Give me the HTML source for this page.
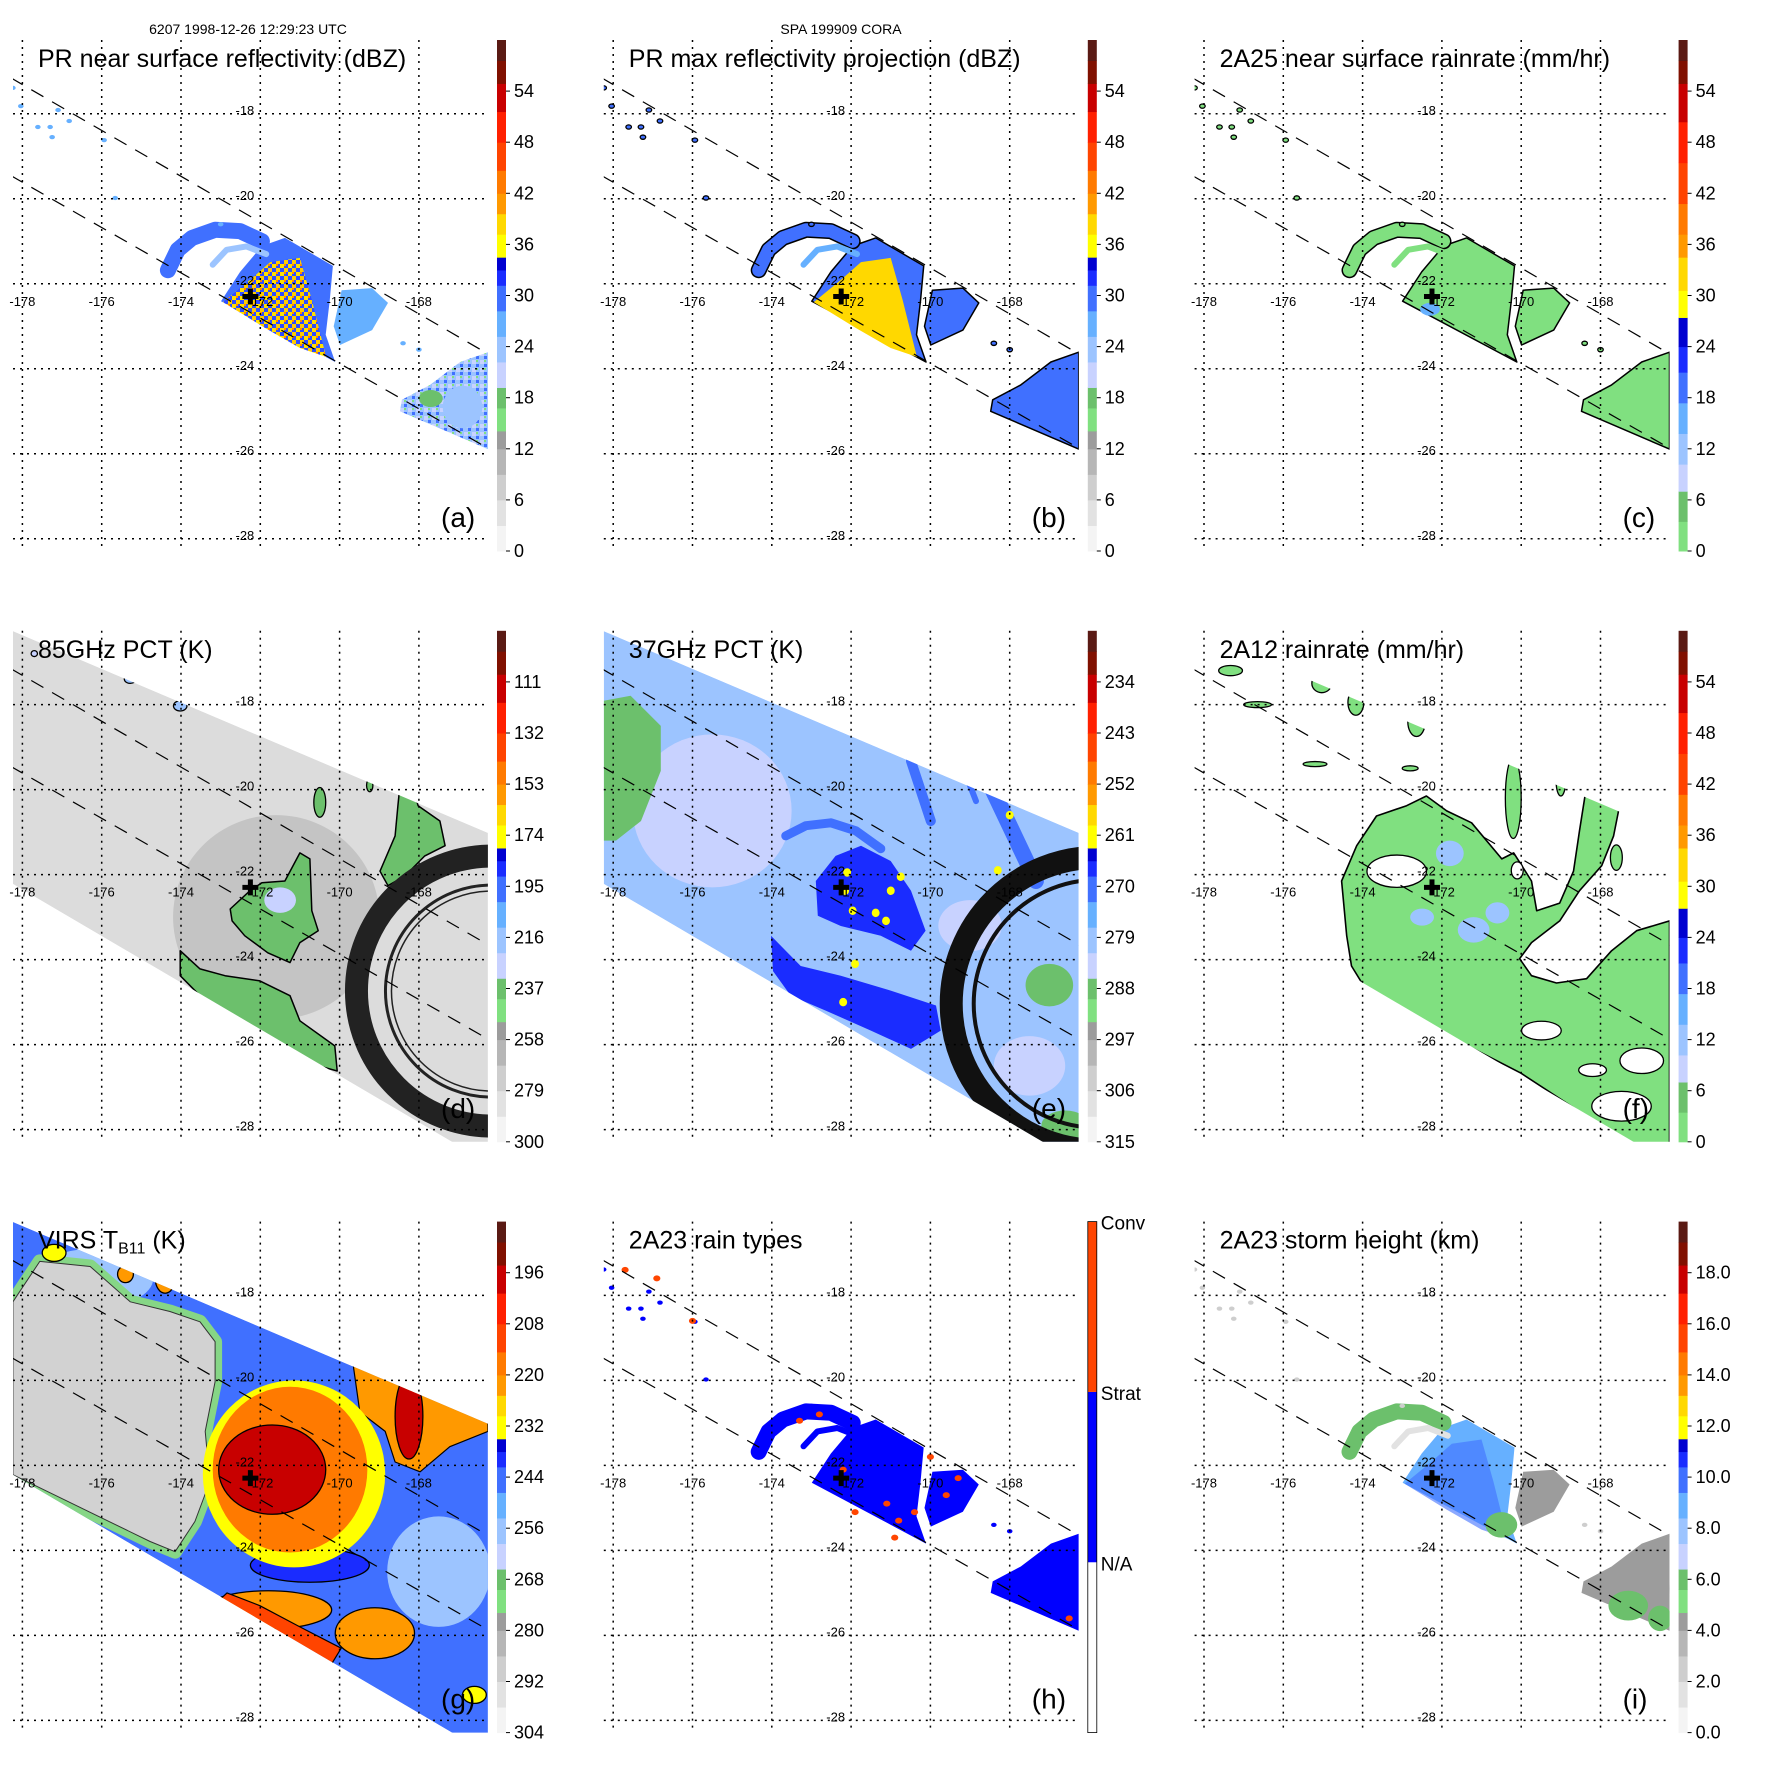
<!DOCTYPE html>
<html><head><meta charset="utf-8"><title>TRMM TC overview 1998-12-26</title>
<style>
html,body{margin:0;padding:0;background:#fff;}
svg{display:block;font-family:"Liberation Sans",Arial,sans-serif;}
</style></head>
<body>
<svg id="fig" xmlns="http://www.w3.org/2000/svg" width="1771" height="1771" viewBox="0 0 1771 1771">
<defs>
<pattern id="speckle-a" width="8" height="8" patternUnits="userSpaceOnUse">
<rect width="8" height="8" fill="#2f4cff"/><rect x="0" y="0" width="4" height="4" fill="#ffe000"/><rect x="4" y="4" width="4" height="4" fill="#ffcc00"/><rect x="4" y="0" width="2" height="2" fill="#ff8800"/>
</pattern>
<pattern id="speckle-lr" width="8" height="8" patternUnits="userSpaceOnUse">
<rect width="8" height="8" fill="#9cc4ff"/><rect x="0" y="0" width="4" height="4" fill="#c8d2ff"/><rect x="4" y="4" width="3" height="3" fill="#4070ff"/><rect x="4" y="0" width="2" height="2" fill="#80e080"/>
</pattern>
</defs>
<rect x="0" y="0" width="1771" height="1771" fill="#fff"/>
<text x="248" y="34" font-size="14" text-anchor="middle">6207 1998-12-26 12:29:23 UTC</text>
<text x="841" y="34" font-size="14" text-anchor="middle">SPA 199909 CORA</text>
</svg>
<script>
// ---------- axis / tick data ----------
const LONS = [-178,-176,-174,-172,-170,-168];
const LATS = [-18,-20,-22,-24,-26,-28];
const CENTER = [-172.25,-22.3];
const prUpper = [[-178.3,-17.15],[-166.2,-23.68]];
const prLower = [[-178.3,-19.45],[-166.2,-25.9]];
const tmiSwath = [[-178.24,-16.27],[-166.26,-21.02],[-166.26,-28.4],[-166.96,-28.4],[-178.24,-22.22]];
// PR echo geometry (lon, lat)
const prBody = [[-172.99,-22.41],[-172.51,-21.72],[-171.96,-21.11],[-171.38,-20.92],[-170.17,-21.58],[-170.25,-22.4],[-170.35,-23.2],[-170.11,-23.84]];
const prChunk = [[-169.95,-22.15],[-169.18,-22.1],[-168.78,-22.45],[-169.18,-23.09],[-169.99,-23.44],[-170.15,-23.0]];
const prArm = [[-174.33,-21.68],[-174.08,-21.2],[-173.72,-20.92],[-173.14,-20.73],[-172.51,-20.76],[-171.96,-21.0]];
const prInnerArm = [[-173.2,-21.55],[-172.85,-21.2],[-172.35,-21.12],[-171.85,-21.3]];
const prLowerRight = [[-168.43,-24.73],[-167.72,-24.38],[-166.96,-23.84],[-166.26,-23.61],[-166.26,-25.89],[-168.48,-25.0]];
const prCore = [[-172.94,-22.43],[-172.26,-21.91],[-171.75,-21.49],[-171.0,-21.39],[-170.7,-22.38],[-170.34,-23.72],[-171.0,-23.51],[-171.88,-23.04]];
const prSpecks = [[-178.24,-17.39],[-178.04,-17.82],[-177.1,-17.91],[-177.61,-18.31],[-177.3,-18.31],[-177.25,-18.55],[-176.82,-18.17],[-175.94,-18.62],[-175.66,-19.98],[-173.0,-20.6],[-168.4,-23.4],[-168.0,-23.55]];
const valsA = [29, 27, 30, 24, 23, 38, 26];
const valsB = [30, 30, 29, 26, 29, 39, 31];
const valsC = [3, 3, 3, 3, 3, 4, 3];
const valsI = [8.5, 4.5, 6.0, 2, 4.4, 9.5, 3];
const convSpecks = [[-172.2,-22.1],[-171.1,-22.9],[-170.8,-23.3],[-170.4,-23.1],[-170.9,-23.7],[-169.3,-22.3],[-169.6,-22.7],[-170.0,-21.8],[-173.3,-20.95],[-172.8,-20.8],[-177.7,-17.4],[-176.9,-17.6],[-176.0,-18.6],[-166.5,-25.6],[-171.9,-23.1]];
// 85 GHz PCT
const d85Central = [[-172.76,-22.81],[-172.26,-22.38],[-171.96,-22.19],[-171.38,-22.15],[-171.0,-21.49],[-170.75,-21.63],[-170.7,-22.85],[-170.54,-23.32],[-171.0,-23.6],[-171.25,-24.07],[-171.81,-23.84],[-172.39,-23.44],[-172.71,-23.09]];
const d85Band = [[-174.02,-23.79],[-173.52,-24.22],[-172.89,-24.38],[-172.01,-24.5],[-171.25,-24.85],[-171.0,-25.44],[-170.12,-26.03],[-170.06,-26.62],[-171.0,-26.38],[-171.88,-25.91],[-172.89,-25.44],[-173.52,-24.85],[-174.02,-24.38]];
const d85Strip = [[-168.48,-19.91],[-168.18,-19.86],[-168.02,-20.38],[-167.47,-20.74],[-167.34,-21.32],[-167.85,-21.56],[-168.35,-22.03],[-168.78,-22.26],[-168.98,-21.92],[-168.6,-21.09],[-168.53,-20.38]];
const d85Cells = [[-175.28,-17.4,0.15,0.1,215],[-174.02,-18.03,0.17,0.12,215],[-170.5,-20.3,0.15,0.35,235],[-169.24,-19.9,0.08,0.15,240],[-177.7,-16.8,0.08,0.07,225]];
const d85Values = [240, 240, 236, 268];
// 37 GHz PCT
const e37Green = [[-178.24,-17.91],[-177.56,-17.79],[-176.8,-18.5],[-176.8,-19.56],[-177.3,-20.74],[-177.93,-21.2],[-178.24,-21.2]];
const e37Band = [[-174.02,-23.44],[-173.27,-24.15],[-172.26,-24.38],[-171.0,-24.73],[-169.86,-25.08],[-169.74,-25.67],[-170.49,-26.1],[-171.5,-25.67],[-172.64,-25.2],[-173.52,-24.85],[-173.97,-24.27]];
const e37Core = [[-172.89,-22.15],[-172.39,-21.56],[-171.75,-21.32],[-171.0,-21.68],[-170.49,-22.38],[-170.12,-23.32],[-170.49,-23.79],[-171.25,-23.44],[-172.26,-23.21],[-172.84,-22.97]];
const e37Arm = [[-173.65,-21.09],[-173.14,-20.85],[-172.51,-20.78],[-171.88,-20.97],[-171.25,-21.39]];
const e37Streaks = [[[-170.49,-19.33],[-169.99,-20.74]],[[-168.48,-19.91],[-167.34,-22.15]],[[-169.24,-19.33],[-168.85,-20.27]]];
const e37Yellow = [[-172.15,-22.38],[-171.96,-22.85],[-171.38,-22.9],[-171.0,-22.38],[-171.12,-23.09],[-172.1,-21.95],[-170.75,-22.05],[-171.9,-24.1],[-172.2,-25.0],[-168.0,-20.6],[-168.3,-21.9]];
const e37Values = [281, 268, 267, 272, 270, 261, 287];
const e37Light = [[-175.5,-20.5,2.0,1.8],[-169.0,-23.2,0.8,0.6],[-167.5,-26.5,0.9,0.7]];
// 2A12 rain
const f12Area = [[-174.4,-23.44],[-174.53,-22.15],[-174.15,-21.32],[-173.65,-20.62],[-172.89,-20.38],[-172.39,-20.15],[-171.88,-20.5],[-171.25,-20.78],[-170.49,-21.63],[-170.19,-21.49],[-169.74,-22.15],[-169.61,-22.85],[-169.03,-22.67],[-168.68,-21.92],[-168.53,-20.97],[-168.35,-19.91],[-167.47,-20.15],[-167.67,-21.09],[-167.97,-21.79],[-168.53,-22.38],[-169.03,-23.09],[-169.74,-23.6],[-170.04,-23.98],[-169.74,-24.38],[-169.11,-24.55],[-168.35,-24.45],[-167.72,-23.79],[-167.09,-23.32],[-166.26,-23.09],[-166.26,-28.4],[-167.34,-28.3],[-170.01,-26.67],[-172.26,-25.59],[-173.9,-24.73],[-174.28,-24.15]];
const f12Holes = [[-173.14,-21.92,0.75,0.38],[-169.49,-25.67,0.5,0.22],[-166.96,-26.38,0.55,0.3],[-167.47,-27.45,0.75,0.35],[-168.2,-26.6,0.35,0.15],[-170.1,-21.9,0.15,0.2]];
const f12Cells = [[-177.33,-17.2,0.3,0.12],[-175.03,-17.5,0.25,0.22],[-174.17,-17.95,0.2,0.3],[-172.64,-18.4,0.22,0.35],[-176.65,-18.0,0.35,0.07],[-174.5,-16.6,0.4,0.25],[-170.2,-20.2,0.2,0.95],[-169.0,-19.8,0.12,0.35],[-167.6,-21.6,0.15,0.3],[-175.2,-19.4,0.3,0.06],[-172.8,-19.5,0.2,0.06]];
const f12Blue = [[-171.8,-21.5,0.35,0.3],[-172.5,-23.0,0.3,0.2],[-171.2,-23.3,0.4,0.3],[-170.6,-22.9,0.3,0.25],[-174.5,-17.4,0.15,0.12]];
const f12Values = [3, 12];
// VIRS Tb11
const gGray = [[-178.24,-18.15],[-177.56,-17.2],[-176.29,-17.32],[-175.28,-18.15],[-174.28,-18.38],[-173.52,-18.62],[-173.14,-19.09],[-173.14,-20.03],[-173.39,-21.2],[-173.27,-22.38],[-173.65,-23.32],[-174.15,-24.03],[-174.78,-23.79],[-178.24,-22.22]];
const gDisk = [[-171.15,-22.2,2.3,2.2,231],[-171.25,-22.1,1.95,1.95,219],[-171.7,-22.1,1.35,1.05,200]];
const gRedBand = [[-172.84,-25.0],[-172.01,-25.3],[-171.0,-25.8],[-169.96,-26.3],[-170.24,-26.73],[-171.25,-26.5],[-172.51,-25.9],[-173.3,-25.4]];
const gOrangeNE = [[-169.74,-19.09],[-168.23,-19.91],[-166.26,-20.97],[-166.26,-21.2],[-167.22,-21.56],[-167.97,-22.15],[-168.6,-21.92],[-168.85,-21.2],[-169.49,-20.74]];
const gCells = [[-168.25,-20.85,0.35,1.0,200],[-169.11,-25.95,1.0,0.6,222],[-171.8,-25.4,1.6,0.45,222],[-170.75,-24.35,1.5,0.4,240],[-175.4,-17.5,0.2,0.2,220],[-174.4,-17.6,0.25,0.35,222],[-177.2,-17.0,0.3,0.2,230],[-166.6,-27.4,0.3,0.2,232],[-169.3,-22.5,0.3,0.5,240]];
const gLightBlue = [[-174.7,-20.4,1.4,2.2,256],[-176.2,-17.6,1.5,0.7,256],[-167.5,-24.5,1.3,1.3,254]];
const iExtra = [[-166.7,-24.9,0.45,0.6,4.2],[-167.3,-25.3,0.5,0.35,6],[-166.5,-25.6,0.3,0.3,6],[-170.5,-23.4,0.4,0.3,6],[-169.6,-22.8,0.3,0.3,4.3]];

// ---------- palettes ----------
const PAL1 = [[0.05,'#f4f4f4'],[0.1,'#e2e2e2'],[0.15,'#cecece'],[0.2,'#b6b6b6'],[0.235,'#9c9c9c'],[0.28,'#80e080'],[0.32,'#6cc06c'],[0.37,'#c8d2ff'],[0.42,'#9cc4ff'],[0.47,'#66b0ff'],[0.52,'#4070ff'],[0.55,'#1a2cff'],[0.575,'#0000d0'],[0.62,'#ffff00'],[0.66,'#ffd800'],[0.7,'#ff9900'],[0.745,'#ff7a00'],[0.8,'#ff4400'],[0.86,'#ff2000'],[0.915,'#c80000'],[0.96,'#801000'],[1,'#5a1a14']];
const PAL2 = [[0.058,'#80e080'],[0.117,'#6cc06c'],[0.17,'#c8d2ff'],[0.23,'#9cc4ff'],[0.29,'#66b0ff'],[0.35,'#4070ff'],[0.4,'#1a2cff'],[0.457,'#0000d0'],[0.51,'#ffff00'],[0.575,'#ffd800'],[0.62,'#ff9900'],[0.68,'#ff7a00'],[0.76,'#ff4400'],[0.84,'#ff2000'],[0.915,'#c80000'],[0.96,'#801000'],[1,'#5a1a14']];

const labels60 = ['0','6','12','18','24','30','36','42','48','54'];
const labelsD = ['300','279','258','237','216','195','174','153','132','111'];
const labelsE = ['315','306','297','288','279','270','261','252','243','234'];
const labelsG = ['304','292','280','268','256','244','232','220','208','196'];
const labelsI = ['0.0','2.0','4.0','6.0','8.0','10.0','12.0','14.0','16.0','18.0'];

const PANELS = [
 {id:'a',col:0,row:0,title:'PR near surface reflectivity (dBZ)',pal:PAL1,vmin:0,vmax:60,labels:labels60},
 {id:'b',col:1,row:0,title:'PR max reflectivity projection (dBZ)',pal:PAL1,vmin:0,vmax:60,labels:labels60},
 {id:'c',col:2,row:0,title:'2A25 near surface rainrate (mm/hr)',pal:PAL2,vmin:0,vmax:60,labels:labels60},
 {id:'d',col:0,row:1,title:'85GHz PCT (K)',pal:PAL1,vmin:300,vmax:90,labels:labelsD},
 {id:'e',col:1,row:1,title:'37GHz PCT (K)',pal:PAL1,vmin:315,vmax:225,labels:labelsE},
 {id:'f',col:2,row:1,title:'2A12 rainrate (mm/hr)',pal:PAL2,vmin:0,vmax:60,labels:labels60},
 {id:'g',col:0,row:2,title:'VIRS T',pal:PAL1,vmin:304,vmax:184,labels:labelsG},
 {id:'h',col:1,row:2,title:'2A23 rain types',pal:null,vmin:0,vmax:1,labels:[]},
 {id:'i',col:2,row:2,title:'2A23 storm height (km)',pal:PAL1,vmin:0,vmax:20,labels:labelsI}
];

// ---------- helpers ----------
const NS='http://www.w3.org/2000/svg';
const svg=document.getElementById('fig');
const PW=590.8;
const X=lon=>22.4+(lon+178)*39.65;
const Y=lat=>113.8+(-18-lat)*42.5;
const SX=39.65, SY=42.5;
function mk(tag,attrs,parent){const el=document.createElementNS(NS,tag);for(const k in attrs)el.setAttribute(k,attrs[k]);parent.appendChild(el);return el;}
function palColor(pal,frac){frac=Math.max(0,Math.min(1,frac));for(const s of pal){if(frac<=s[0])return s[1];}return pal[pal.length-1][1];}
function col(p,v){return palColor(p.pal,(v-p.vmin)/(p.vmax-p.vmin));}
function pts(arr){return arr.map(q=>X(q[0]).toFixed(1)+','+Y(q[1]).toFixed(1)).join(' ');}
function poly(g,arr,fill,stroke,sw,name){
  const el=mk('polygon',{points:pts(arr),fill:fill,stroke:stroke||'none','stroke-width':sw||0,'stroke-linejoin':'round'},g);
  
  
  return el;}
function line(g,arr,stroke,sw,name){
  const el=mk('polyline',{points:pts(arr),fill:'none',stroke:stroke,'stroke-width':sw,'stroke-linecap':'round','stroke-linejoin':'round'},g);
  
  
  return el;}
function ell(g,lon,lat,rx,ry,fill,stroke,name){
  const el=mk('ellipse',{cx:X(lon),cy:Y(lat),rx:rx*SX,ry:ry*SY,fill:fill,stroke:stroke||'none','stroke-width':1.3},g);
  
  
  return el;}
function ring(g,c,r,w,color,name){
  const el=mk('circle',{cx:X(c[0]),cy:Y(c[1]),r:r,fill:'none',stroke:color,'stroke-width':w},g);
  
  
  return el;}

// ---------- build panels ----------
PANELS.forEach(p=>{
  const ox=p.col*PW, oy=p.row*PW;
  const g=mk('g',{transform:`translate(${ox.toFixed(1)},${oy.toFixed(1)})`},svg);
  
  
  const defs=mk('defs',{},g);
  const cp=mk('clipPath',{id:'clip-'+p.id},defs);
  mk('rect',{x:13,y:40,width:475,height:511},cp);
  const cps=mk('clipPath',{id:'swclip-'+p.id},defs);
  mk('polygon',{points:pts(tmiSwath)},cps);
  const map=mk('g',{'clip-path':`url(#clip-${p.id})`},g);
  
  

  if(['a','b','c','h','i'].includes(p.id)){
    const V = p.id==='a'?valsA:p.id==='b'?valsB:p.id==='c'?valsC:p.id==='i'?valsI:null;
    const oc = (p.id==='b'||p.id==='c')?'#000':'none';
    const c0 = V?col(p,V[0]):'#0000ff', c1=V?col(p,V[1]):'#0000ff', c2=V?col(p,V[2]):'#0000ff', c3=V?col(p,V[3]):'#0000ff';
    let c4 = V?col(p,V[4]):'#0000ff';
    if(p.id==='a') c4='url(#speckle-lr)';
    poly(map,prBody,c0,oc,1.5,'echo-body');
    poly(map,prChunk,c1,oc,1.5,'echo-east-chunk');
    line(map,prArm,oc==='none'?c2:'#000',16,'spiral-arm-outline');
    line(map,prArm,c2,13,'spiral-arm');
    line(map,prInnerArm,c3,6,'inner-arm');
    poly(map,prLowerRight,c4,oc,1.5,'echo-southeast');
    if(V && p.id!=='c'){
      const core=poly(map,prCore,p.id==='a'?'url(#speckle-a)':col(p,V[5]),'none',0,'echo-core');
      if(p.id==='i') core.setAttribute('opacity','0.6');
    }
    if(p.id==='c'){ ell(map,-172.3,-22.6,0.25,0.15,col(p,15),'none','rain-core'); }
    if(p.id==='a'){ ell(map,-166.9,-24.9,0.5,0.5,col(p,25),'none','light-echo'); ell(map,-167.7,-24.7,0.3,0.2,col(p,17),'none','light-echo'); }
    if(p.id==='i'){ iExtra.forEach(q=>{ ell(map,q[0],q[1],q[2],q[3],col(p,q[4]),'none','height-cell'); }); }
    const spCol = V?col(p,V[6]):'#0000ff';
    prSpecks.forEach(q=>{ ell(map,q[0],q[1],0.07,0.05,spCol,oc==='none'?'none':'#000','echo-speck'); });
    if(p.id==='h'){ convSpecks.forEach(q=>{ ell(map,q[0],q[1],0.09,0.07,'#ff4500','none','convective-speck'); }); }
  }
  if(p.id==='d'){
    const sw=mk('g',{'clip-path':`url(#swclip-${p.id})`},map);
    poly(sw,tmiSwath,'#dcdcdc','none',0,'tmi-swath');
    ell(sw,-171.6,-23.0,2.6,2.4,'#c4c4c4','none','cloud-shield');
    poly(sw,d85Central,col(p,d85Values[0]),'#000',1.5,'ice-scatter-core');
    poly(sw,d85Band,col(p,d85Values[1]),'#000',1.5,'ice-scatter-band');
    poly(sw,d85Strip,col(p,d85Values[2]),'#000',1.5,'ice-scatter-strip');
    ell(sw,-171.5,-22.6,0.4,0.3,col(p,225),'none','cold-patch');
    d85Cells.forEach(q=>{ ell(sw,q[0],q[1],q[2],q[3],col(p,q[4]),'#000','ice-cell'); });
    const rc=[-166.17,-24.74];
    ring(sw,rc,135,23,'#222','contour-ring');
    ring(sw,rc,106,3,'#222','contour-ring-inner');
    ring(sw,rc,100,1.5,'#222','contour-ring-inner2');
  }
  if(p.id==='e'){
    const sw=mk('g',{'clip-path':`url(#swclip-${p.id})`},map);
    poly(sw,tmiSwath,col(p,e37Values[0]),'none',0,'tmi-swath');
    e37Light.forEach(q=>{ ell(sw,q[0],q[1],q[2],q[3],'#c8d2ff','none','warm-area'); });
    poly(sw,e37Green,col(p,e37Values[6]),'none',0,'warm-green-area');
    poly(sw,e37Band,col(p,e37Values[1]),'none',0,'rainband-south');
    poly(sw,e37Core,col(p,e37Values[2]),'none',0,'rain-core');
    line(sw,e37Arm,col(p,e37Values[3]),9,'rain-arm');
    e37Streaks.forEach((s,i)=>{ line(sw,s,col(p,e37Values[4]),[10,16,6][i],'rain-streak'); });
    ell(sw,-167.0,-24.6,0.6,0.5,col(p,287),'none','warm-green-area');
    ell(sw,-166.6,-27.9,0.6,0.35,col(p,287),'none','warm-green-area');
    e37Yellow.forEach(q=>{ ell(sw,q[0],q[1],0.1,0.1,col(p,e37Values[5]),'none','cold-speck'); });
    const rc=[-165.78,-25.04];
    ring(sw,rc,146.5,23,'#111','contour-ring');
    ring(sw,rc,124,4,'#111','contour-ring-inner');
  }
  if(p.id==='f'){
    const sw=mk('g',{'clip-path':`url(#swclip-${p.id})`},map);
    poly(sw,f12Area,col(p,f12Values[0]),'#000',1.6,'rain-area');
    f12Holes.forEach(q=>{ ell(sw,q[0],q[1],q[2],q[3],'#fff','#000','no-rain-hole'); });
    f12Cells.forEach(q=>{ ell(sw,q[0],q[1],q[2],q[3],col(p,f12Values[0]),'#000','rain-cell'); });
    f12Blue.forEach(q=>{ ell(sw,q[0],q[1],q[2],q[3],col(p,f12Values[1]),'none','heavy-rain'); });
  }
  if(p.id==='g'){
    const sw=mk('g',{'clip-path':`url(#swclip-${p.id})`},map);
    poly(sw,tmiSwath,col(p,247),'none',0,'virs-swath');
    gLightBlue.forEach(q=>{ ell(sw,q[0],q[1],q[2],q[3],col(p,q[4]),'none','thin-cloud'); });
    poly(sw,gGray,'#86d686','#86d686',14,'cloud-edge');
    poly(sw,gGray,'#d2d2d2','#333',1,'clear-sky');
    poly(sw,gOrangeNE,col(p,222),'#000',1.2,'cold-cloud-ne');
    gCells.forEach(q=>{ ell(sw,q[0],q[1],q[2],q[3],col(p,q[4]),'#000','cloud-cell'); });
    poly(sw,gRedBand,col(p,212),'#000',1.2,'cold-band-south');
    gDisk.forEach((q,i)=>{ ell(sw,q[0],q[1],q[2],q[3],col(p,q[4]),i===2?'#000':'none',['cdo-outer','cdo','cdo-core'][i]); });
  }
  // gridlines
  LONS.forEach(lon=>{
    const el=mk('line',{x1:X(lon),y1:40,x2:X(lon),y2:551,stroke:'#000','stroke-width':1.5,'stroke-dasharray':'2 5'},g);
    
    
  });
  LATS.forEach(lat=>{
    const el=mk('line',{x1:13,y1:Y(lat),x2:488,y2:Y(lat),stroke:'#000','stroke-width':1.5,'stroke-dasharray':'2 5'},g);
    
    
  });
  const swG=mk('g',{'clip-path':`url(#clip-${p.id})`},g);
  [prUpper,prLower].forEach((l,i)=>{
    const el=mk('line',{x1:X(l[0][0]),y1:Y(l[0][1]),x2:X(l[1][0]),y2:Y(l[1][1]),stroke:'#000','stroke-width':1.2,'stroke-dasharray':'14 10'},swG);
    
    
  });
  LONS.forEach(lon=>{
    const t=mk('text',{x:X(lon),y:Y(-22)+22,'font-size':13,'text-anchor':'middle'},g);
    t.textContent=String(lon);
    
    
  });
  LATS.forEach(lat=>{
    const t=mk('text',{x:X(-172)-6,y:Y(lat)+1,'font-size':13,'text-anchor':'end'},g);
    t.textContent=String(lat);
    
    
  });
  const cx=X(CENTER[0]), cy=Y(CENTER[1]);
  const cr=mk('path',{d:`M${cx-8},${cy}H${cx+8}M${cx},${cy-8}V${cy+8}`,stroke:'#000','stroke-width':5},g);
  
  
  const tt=mk('text',{x:38,y:67,'font-size':25},g);
  tt.textContent=p.title;
  if(p.id==='g'){
    const sub=mk('tspan',{'font-size':16,dy:5},tt); sub.textContent='B11';
    const rest=mk('tspan',{dy:-5},tt); rest.textContent=' (K)';
  }
  
  
  const lt=mk('text',{x:441,y:527,'font-size':28},g);
  lt.textContent='('+p.id+')';
  
  
  const cb=mk('g',{},g);
  
  
  const top=40, bot=551, H=bot-top;
  if(p.pal){
    let prev=0;
    p.pal.forEach(s=>{
      const r=mk('rect',{x:497,y:bot-s[0]*H,width:9,height:(s[0]-prev)*H+0.5,fill:s[1]},cb);
      
      
      prev=s[0];
    });
    p.labels.forEach((lab,i)=>{
      const yy=bot-(i/10)*H;
      const tk=mk('line',{x1:506,y1:yy,x2:510,y2:yy,stroke:'#000','stroke-width':1},cb);
      
      
      const t=mk('text',{x:514,y:yy+6,'font-size':18},cb);
      t.textContent=lab;
      
      
    });
  } else {
    const segs=[['#ffffff','N/A'],['#0000ff','Strat'],['#ff4500','Conv']];
    segs.forEach((s,i)=>{
      const r=mk('rect',{x:497,y:bot-(i+1)*H/3,width:9,height:H/3,fill:s[0]},cb);
      
      
      const t=mk('text',{x:510,y:bot-(i+1)*H/3+8,'font-size':19},cb);
      t.textContent=s[1];
      
      
    });
    const o=mk('rect',{x:497,y:top,width:9,height:H,fill:'none',stroke:'#000','stroke-width':0.8},cb);
    
    
  }
});
</script>
</body></html>
